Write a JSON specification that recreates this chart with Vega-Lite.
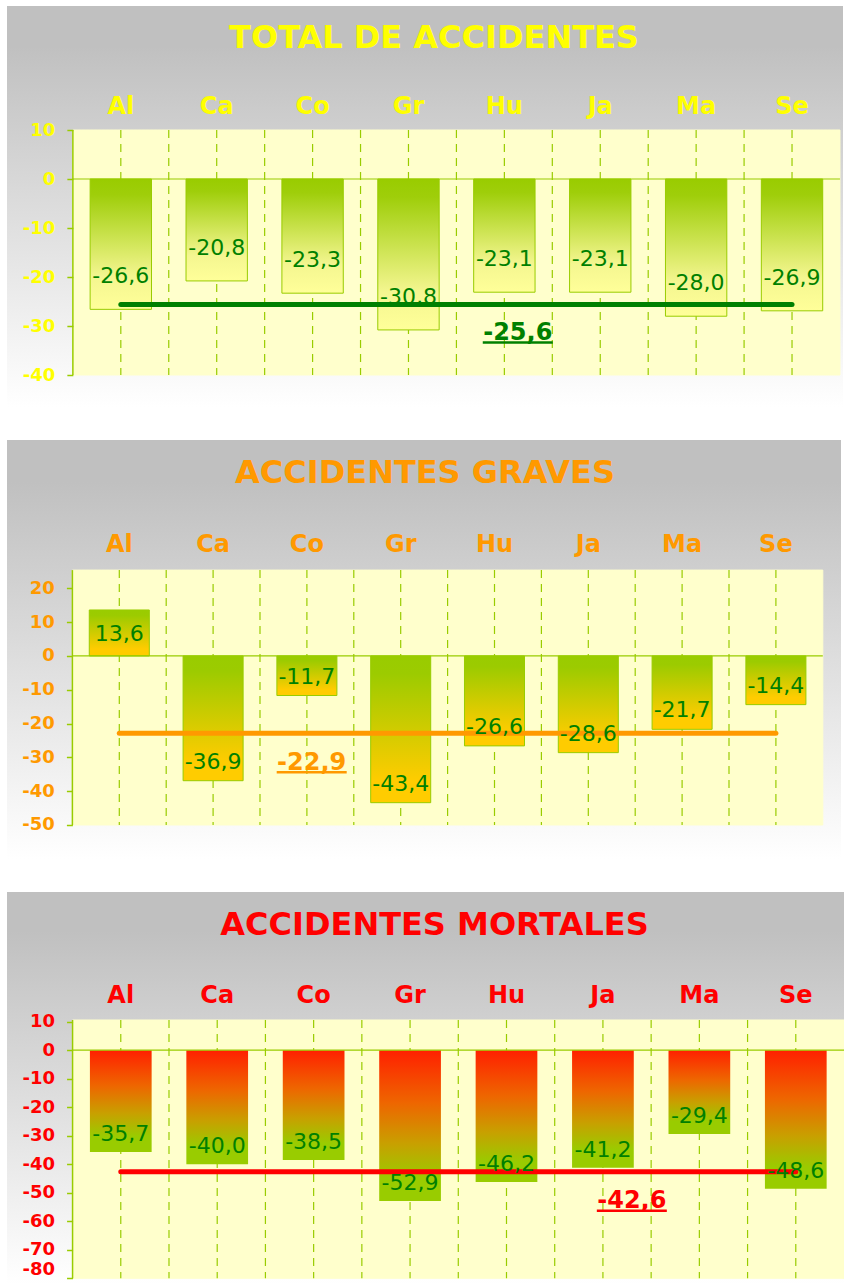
{
  "$schema": "https://vega.github.io/schema/vega-lite/v6.json",
  "background": "#ffffff",
  "padding": {"left": 7, "top": 6, "right": 0, "bottom": 0},
  "spacing": 33,
  "bounds": "flush",
  "config": {
    "font": "DejaVu Sans",
    "view": {"stroke": null},
    "locale": {"number": {"decimal": ",", "thousands": ".", "grouping": [3], "currency": ["", " €"], "minus": "-"}}
  },
  "datasets": {
    "total": [
      {"cat": "Al", "value": -26.6}, {"cat": "Ca", "value": -20.8}, {"cat": "Co", "value": -23.3}, {"cat": "Gr", "value": -30.8},
      {"cat": "Hu", "value": -23.1}, {"cat": "Ja", "value": -23.1}, {"cat": "Ma", "value": -28.0}, {"cat": "Se", "value": -26.9}
    ],
    "total_media": [{"mean": -25.6}],
    "graves": [
      {"cat": "Al", "value": 13.6}, {"cat": "Ca", "value": -36.9}, {"cat": "Co", "value": -11.7}, {"cat": "Gr", "value": -43.4},
      {"cat": "Hu", "value": -26.6}, {"cat": "Ja", "value": -28.6}, {"cat": "Ma", "value": -21.7}, {"cat": "Se", "value": -14.4}
    ],
    "graves_media": [{"mean": -22.9}],
    "mortales": [
      {"cat": "Al", "value": -35.7}, {"cat": "Ca", "value": -40.0}, {"cat": "Co", "value": -38.5}, {"cat": "Gr", "value": -52.9},
      {"cat": "Hu", "value": -46.2}, {"cat": "Ja", "value": -41.2}, {"cat": "Ma", "value": -29.4}, {"cat": "Se", "value": -48.6}
    ],
    "mortales_media": [{"mean": -42.6}]
  },
  "vconcat": [
    {
      "width": 836,
      "height": 401,
      "view": {"stroke": null, "fill": {"gradient": "linear", "x1": 0, "y1": 0, "x2": 0, "y2": 1, "stops": [{"offset": 0, "color": "#c0c0c0"}, {"offset": 0.1, "color": "#c0c0c0"}, {"offset": 1, "color": "#ffffff"}]}},
      "title": {"text": "TOTAL DE ACCIDENTES", "color": "#ffff00", "fontSize": 32, "fontWeight": "bold", "font": "DejaVu Sans", "anchor": "middle", "frame": "group", "baseline": "alphabetic", "offset": -74, "dx": 9},
      "resolve": {"axis": {"x": "independent", "y": "independent"}},
      "layer": [
        {"data": {"name": "total"}, "mark": {"type": "rect", "fill": "#ffffcc", "stroke": "#ffffcc", "strokeWidth": 1},
         "encoding": {
           "x": {"field": "cat", "type": "nominal",
                 "scale": {"domain": ["Al", "Ca", "Co", "Gr", "Hu", "Ja", "Ma", "Se"], "paddingInner": 0, "paddingOuter": 0.3593, "align": 0.956},
                 "axis": {"orient": "top", "offset": -124, "domain": false, "ticks": false, "tickSize": 0, "grid": false, "labelColor": "#ffff00", "labelFontSize": 24, "labelFontWeight": "bold", "labelPadding": 17, "labelBaseline": "alphabetic", "labelAngle": 0, "title": null, "zindex": 1}},
           "y": {"datum": 10,
                 "scale": {"domain": [-46.53, 35.31], "nice": false, "zero": false},
                 "axis": {"orient": "left", "offset": -65.86, "values": [-40, -30, -20, -10, 0, 10], "format": "d", "domain": false, "grid": false, "ticks": true, "tickSize": 6, "tickColor": "#99cc00", "tickWidth": 1.5, "labelColor": "#ffff00", "labelFontSize": 18, "labelFontWeight": "bold", "labelPadding": 12, "title": null, "zindex": 1}},
           "y2": {"datum": -40}
         }},
        {"data": {"name": "total"}, "mark": {"type": "rule", "stroke": "#99cc00", "strokeWidth": 1.2, "strokeDash": [8, 6]},
         "encoding": {"x": {"field": "cat", "type": "nominal", "bandPosition": 0.5, "axis": null}, "y": {"datum": 10, "axis": null}, "y2": {"datum": -40}}},
        {"data": {"name": "total"}, "transform": [{"filter": "datum.cat != 'Al'"}], "mark": {"type": "rule", "stroke": "#99cc00", "strokeWidth": 1.2, "strokeDash": [8, 6]},
         "encoding": {"x": {"field": "cat", "type": "nominal", "bandPosition": 0, "axis": null}, "y": {"datum": 10, "axis": null}, "y2": {"datum": -40}}},
        {"data": {"name": "total"},
         "mark": {"type": "bar", "width": {"band": 0.64}, "stroke": "#99cc00", "strokeWidth": 1,
                  "fill": {"gradient": "linear", "x1": 0, "y1": 0, "x2": 0, "y2": 1, "stops": [{"offset": 0, "color": "#99cc00"}, {"offset": 0.12, "color": "#9fce0a"}, {"offset": 0.75, "color": "#f4f690"}, {"offset": 1, "color": "#ffff99"}]}},
         "encoding": {"x": {"field": "cat", "type": "nominal", "axis": null}, "y": {"field": "value", "type": "quantitative", "axis": null}, "y2": {"datum": 0}}},
        {"data": {"name": "total_media"}, "mark": {"type": "rule", "stroke": "#99cc00", "strokeWidth": 1.2},
         "encoding": {"x": {"datum": "Al", "bandPosition": 0, "axis": null}, "x2": {"datum": "Se", "bandPosition": 1}, "y": {"datum": 0, "axis": null}}},
        {"data": {"name": "total_media"}, "mark": {"type": "rule", "stroke": "#99cc00", "strokeWidth": 1.5},
         "encoding": {"x": {"datum": "Al", "bandPosition": 0, "axis": null}, "y": {"datum": 10, "axis": null}, "y2": {"datum": -40}}},
        {"data": {"name": "total_media"}, "mark": {"type": "rule", "stroke": "#008000", "strokeWidth": 5, "strokeCap": "round"},
         "encoding": {"x": {"datum": "Al", "bandPosition": 0.5, "axis": null}, "x2": {"datum": "Se", "bandPosition": 0.5}, "y": {"field": "mean", "type": "quantitative", "axis": null}}},
        {"data": {"name": "total_media"}, "mark": {"type": "rule", "stroke": "#008000", "strokeWidth": 2.5, "xOffset": -21.6, "x2Offset": 48.4, "yOffset": 38},
         "encoding": {"x": {"datum": "Hu", "bandPosition": 0.5, "axis": null}, "x2": {"datum": "Hu", "bandPosition": 0.5}, "y": {"field": "mean", "type": "quantitative", "axis": null}}},
        {"data": {"name": "total_media"}, "mark": {"type": "text", "fill": "#008000", "fontSize": 24, "fontWeight": "bold", "align": "center", "baseline": "alphabetic", "dx": 13.4, "dy": 35.6},
         "encoding": {"x": {"datum": "Hu", "bandPosition": 0.5, "axis": null}, "y": {"field": "mean", "type": "quantitative", "axis": null}, "text": {"field": "mean", "type": "quantitative", "format": ".1f"}}},
        {"data": {"name": "total"}, "mark": {"type": "text", "fill": "#008000", "fontSize": 22, "align": "center", "baseline": "middle", "dy": -33},
         "encoding": {"x": {"field": "cat", "type": "nominal", "bandPosition": 0.5, "axis": null}, "y": {"field": "value", "type": "quantitative", "axis": null}, "text": {"field": "value", "type": "quantitative", "format": ".1f"}}}
      ]
    },
    {
      "width": 834,
      "height": 419,
      "view": {"stroke": null, "fill": {"gradient": "linear", "x1": 0, "y1": 0, "x2": 0, "y2": 1, "stops": [{"offset": 0, "color": "#c0c0c0"}, {"offset": 0.1, "color": "#c0c0c0"}, {"offset": 1, "color": "#ffffff"}]}},
      "title": {"text": "ACCIDENTES GRAVES", "color": "#ff9900", "fontSize": 32, "fontWeight": "bold", "font": "DejaVu Sans", "anchor": "middle", "frame": "group", "baseline": "alphabetic", "offset": -75, "dx": 1},
      "resolve": {"axis": {"x": "independent", "y": "independent"}},
      "layer": [
        {"data": {"name": "graves"}, "mark": {"type": "rect", "fill": "#ffffcc", "stroke": "#ffffcc", "strokeWidth": 1},
         "encoding": {
           "x": {"field": "cat", "type": "nominal",
                 "scale": {"domain": ["Al", "Ca", "Co", "Gr", "Hu", "Ja", "Ma", "Se"], "paddingInner": 0, "paddingOuter": 0.4456, "align": 0.7823},
                 "axis": {"orient": "top", "offset": -130, "domain": false, "ticks": false, "tickSize": 0, "grid": false, "labelColor": "#ff9900", "labelFontSize": 24, "labelFontWeight": "bold", "labelPadding": 19, "labelBaseline": "alphabetic", "labelAngle": 0, "title": null, "zindex": 1}},
           "y": {"datum": 25.4,
                 "scale": {"domain": [-60.06, 63.88], "nice": false, "zero": false},
                 "axis": {"orient": "left", "offset": -65.4, "values": [-50, -40, -30, -20, -10, 0, 10, 20], "format": "d", "domain": false, "grid": false, "ticks": true, "tickSize": 6, "tickColor": "#99cc00", "tickWidth": 1.5, "labelColor": "#ff9900", "labelFontSize": 18, "labelFontWeight": "bold", "labelPadding": 12, "title": null, "zindex": 1}},
           "y2": {"datum": -50}
         }},
        {"data": {"name": "graves"}, "mark": {"type": "rule", "stroke": "#99cc00", "strokeWidth": 1.2, "strokeDash": [8, 6]},
         "encoding": {"x": {"field": "cat", "type": "nominal", "bandPosition": 0.5, "axis": null}, "y": {"datum": 25.4, "axis": null}, "y2": {"datum": -50}}},
        {"data": {"name": "graves"}, "transform": [{"filter": "datum.cat != 'Al'"}], "mark": {"type": "rule", "stroke": "#99cc00", "strokeWidth": 1.2, "strokeDash": [8, 6]},
         "encoding": {"x": {"field": "cat", "type": "nominal", "bandPosition": 0, "axis": null}, "y": {"datum": 25.4, "axis": null}, "y2": {"datum": -50}}},
        {"data": {"name": "graves"},
         "mark": {"type": "bar", "width": {"band": 0.64}, "stroke": "#99cc00", "strokeWidth": 1,
                  "fill": {"gradient": "linear", "x1": 0, "y1": 0, "x2": 0, "y2": 1, "stops": [{"offset": 0, "color": "#99cc00"}, {"offset": 0.12, "color": "#9ccb00"}, {"offset": 0.85, "color": "#ffcc00"}, {"offset": 1, "color": "#ffcc00"}]}},
         "encoding": {"x": {"field": "cat", "type": "nominal", "axis": null}, "y": {"field": "value", "type": "quantitative", "axis": null}, "y2": {"datum": 0}}},
        {"data": {"name": "graves_media"}, "mark": {"type": "rule", "stroke": "#99cc00", "strokeWidth": 1.2},
         "encoding": {"x": {"datum": "Al", "bandPosition": 0, "axis": null}, "x2": {"datum": "Se", "bandPosition": 1}, "y": {"datum": 0, "axis": null}}},
        {"data": {"name": "graves_media"}, "mark": {"type": "rule", "stroke": "#99cc00", "strokeWidth": 1.5},
         "encoding": {"x": {"datum": "Al", "bandPosition": 0, "axis": null}, "y": {"datum": 25.4, "axis": null}, "y2": {"datum": -50}}},
        {"data": {"name": "graves_media"}, "mark": {"type": "rule", "stroke": "#ff9900", "strokeWidth": 5, "strokeCap": "round"},
         "encoding": {"x": {"datum": "Al", "bandPosition": 0.5, "axis": null}, "x2": {"datum": "Se", "bandPosition": 0.5}, "y": {"field": "mean", "type": "quantitative", "axis": null}}},
        {"data": {"name": "graves_media"}, "mark": {"type": "rule", "stroke": "#ff9900", "strokeWidth": 2.5, "xOffset": -30.2, "x2Offset": 39.8, "yOffset": 39},
         "encoding": {"x": {"datum": "Co", "bandPosition": 0.5, "axis": null}, "x2": {"datum": "Co", "bandPosition": 0.5}, "y": {"field": "mean", "type": "quantitative", "axis": null}}},
        {"data": {"name": "graves_media"}, "mark": {"type": "text", "fill": "#ff9900", "fontSize": 24, "fontWeight": "bold", "align": "center", "baseline": "alphabetic", "dx": 4.8, "dy": 36.6},
         "encoding": {"x": {"datum": "Co", "bandPosition": 0.5, "axis": null}, "y": {"field": "mean", "type": "quantitative", "axis": null}, "text": {"field": "mean", "type": "quantitative", "format": ".1f"}}},
        {"data": {"name": "graves"}, "transform": [{"filter": "datum.value < 0"}], "mark": {"type": "text", "fill": "#008000", "fontSize": 22, "align": "center", "baseline": "middle", "dy": -19},
         "encoding": {"x": {"field": "cat", "type": "nominal", "bandPosition": 0.5, "axis": null}, "y": {"field": "value", "type": "quantitative", "axis": null}, "text": {"field": "value", "type": "quantitative", "format": ".1f"}}},
        {"data": {"name": "graves"}, "transform": [{"filter": "datum.value >= 0"}], "mark": {"type": "text", "fill": "#008000", "fontSize": 22, "align": "center", "baseline": "middle", "dy": 24},
         "encoding": {"x": {"field": "cat", "type": "nominal", "bandPosition": 0.5, "axis": null}, "y": {"field": "value", "type": "quantitative", "axis": null}, "text": {"field": "value", "type": "quantitative", "format": ".1f"}}}
      ]
    },
    {
      "width": 837,
      "height": 392,
      "view": {"stroke": null, "fill": {"gradient": "linear", "x1": 0, "y1": 0, "x2": 0, "y2": 1, "stops": [{"offset": 0, "color": "#c0c0c0"}, {"offset": 0.1, "color": "#c0c0c0"}, {"offset": 1, "color": "#ffffff"}]}},
      "title": {"text": "ACCIDENTES MORTALES", "color": "#ff0000", "fontSize": 32, "fontWeight": "bold", "font": "DejaVu Sans", "anchor": "middle", "frame": "group", "baseline": "alphabetic", "offset": -75, "dx": 9},
      "resolve": {"axis": {"x": "independent", "y": "independent"}},
      "layer": [
        {"data": {"name": "mortales"}, "mark": {"type": "rect", "fill": "#ffffcc", "stroke": "#ffffcc", "strokeWidth": 1},
         "encoding": {
           "x": {"field": "cat", "type": "nominal",
                 "scale": {"domain": ["Al", "Ca", "Co", "Gr", "Hu", "Ja", "Ma", "Se"], "paddingInner": 0, "paddingOuter": 0.33995, "align": 1},
                 "axis": {"orient": "top", "offset": -128, "domain": false, "ticks": false, "tickSize": 0, "grid": false, "labelColor": "#ff0000", "labelFontSize": 24, "labelFontWeight": "bold", "labelPadding": 18, "labelBaseline": "alphabetic", "labelAngle": 0, "title": null, "zindex": 1}},
           "y": {"datum": 10.6,
                 "scale": {"domain": [-82.0, 55.49], "nice": false, "zero": false},
                 "axis": {"orient": "left", "offset": -65.56, "values": [-80, -70, -60, -50, -40, -30, -20, -10, 0, 10], "format": "d", "domain": false, "grid": false, "ticks": true, "tickSize": 6, "tickColor": "#99cc00", "tickWidth": 1.5, "labelColor": "#ff0000", "labelFontSize": 18, "labelFontWeight": "bold", "labelPadding": 12, "labelFlush": 10, "title": null, "zindex": 1}},
           "y2": {"datum": -80}
         }},
        {"data": {"name": "mortales"}, "mark": {"type": "rule", "stroke": "#99cc00", "strokeWidth": 1.2, "strokeDash": [8, 6]},
         "encoding": {"x": {"field": "cat", "type": "nominal", "bandPosition": 0.5, "axis": null}, "y": {"datum": 10.6, "axis": null}, "y2": {"datum": -80}}},
        {"data": {"name": "mortales"}, "transform": [{"filter": "datum.cat != 'Al'"}], "mark": {"type": "rule", "stroke": "#99cc00", "strokeWidth": 1.2, "strokeDash": [8, 6]},
         "encoding": {"x": {"field": "cat", "type": "nominal", "bandPosition": 0, "axis": null}, "y": {"datum": 10.6, "axis": null}, "y2": {"datum": -80}}},
        {"data": {"name": "mortales"},
         "mark": {"type": "bar", "width": {"band": 0.64}, "strokeWidth": 0,
                  "fill": {"gradient": "linear", "x1": 0, "y1": 0, "x2": 0, "y2": 1, "stops": [{"offset": 0, "color": "#ff2000"}, {"offset": 0.35, "color": "#ee6600"}, {"offset": 0.62, "color": "#c8a000"}, {"offset": 0.85, "color": "#99cc00"}, {"offset": 1, "color": "#99cc00"}]}},
         "encoding": {"x": {"field": "cat", "type": "nominal", "axis": null}, "y": {"field": "value", "type": "quantitative", "axis": null}, "y2": {"datum": 0}}},
        {"data": {"name": "mortales_media"}, "mark": {"type": "rule", "stroke": "#99cc00", "strokeWidth": 1.2},
         "encoding": {"x": {"datum": "Al", "bandPosition": 0, "axis": null}, "x2": {"datum": "Se", "bandPosition": 1}, "y": {"datum": 0, "axis": null}}},
        {"data": {"name": "mortales_media"}, "mark": {"type": "rule", "stroke": "#99cc00", "strokeWidth": 1.5},
         "encoding": {"x": {"datum": "Al", "bandPosition": 0, "axis": null}, "y": {"datum": 10.6, "axis": null}, "y2": {"datum": -80}}},
        {"data": {"name": "mortales_media"}, "mark": {"type": "rule", "stroke": "#ff0000", "strokeWidth": 5, "strokeCap": "round"},
         "encoding": {"x": {"datum": "Al", "bandPosition": 0.5, "axis": null}, "x2": {"datum": "Se", "bandPosition": 0.5}, "y": {"field": "mean", "type": "quantitative", "axis": null}}},
        {"data": {"name": "mortales_media"}, "mark": {"type": "rule", "stroke": "#ff0000", "strokeWidth": 2.5, "xOffset": -6.1, "x2Offset": 63.9, "yOffset": 39},
         "encoding": {"x": {"datum": "Ja", "bandPosition": 0.5, "axis": null}, "x2": {"datum": "Ja", "bandPosition": 0.5}, "y": {"field": "mean", "type": "quantitative", "axis": null}}},
        {"data": {"name": "mortales_media"}, "mark": {"type": "text", "fill": "#ff0000", "fontSize": 24, "fontWeight": "bold", "align": "center", "baseline": "alphabetic", "dx": 28.9, "dy": 36.6},
         "encoding": {"x": {"datum": "Ja", "bandPosition": 0.5, "axis": null}, "y": {"field": "mean", "type": "quantitative", "axis": null}, "text": {"field": "mean", "type": "quantitative", "format": ".1f"}}},
        {"data": {"name": "mortales"}, "mark": {"type": "text", "fill": "#008000", "fontSize": 22, "align": "center", "baseline": "middle", "dy": -18},
         "encoding": {"x": {"field": "cat", "type": "nominal", "bandPosition": 0.5, "axis": null}, "y": {"field": "value", "type": "quantitative", "axis": null}, "text": {"field": "value", "type": "quantitative", "format": ".1f"}}}
      ]
    }
  ]
}
